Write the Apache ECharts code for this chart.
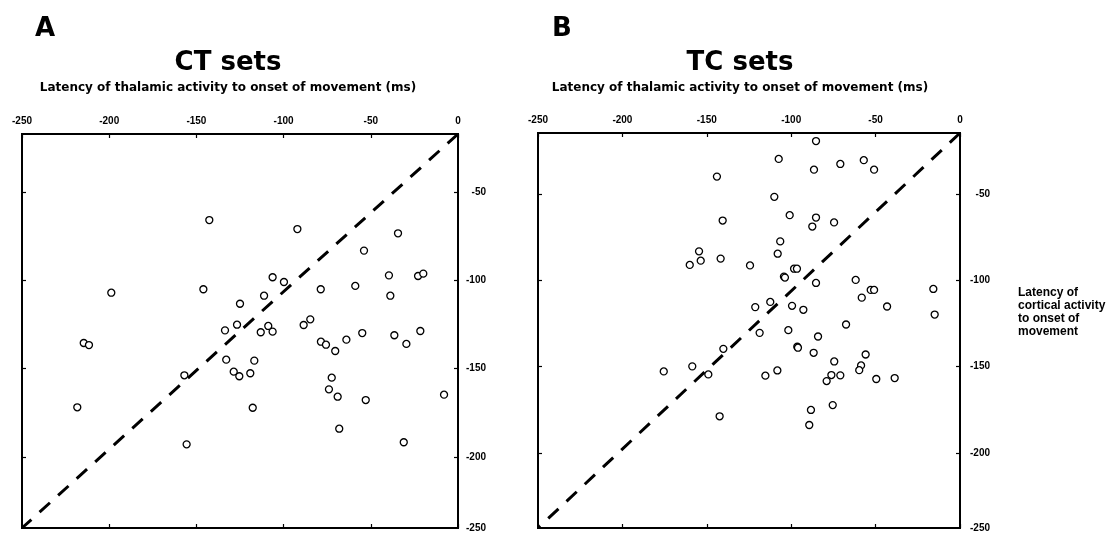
<!DOCTYPE html>
<html>
<head>
<meta charset="utf-8">
<script src="https://cdn.jsdelivr.net/npm/echarts@6/dist/echarts.min.js"></script>
<style>
  html, body { margin: 0; padding: 0; background: #fff; }
  #chart { width: 1114px; height: 533px; }
</style>
</head>
<body>
<div id="chart"></div>
<script>
// Latencies (ms) relative to onset of movement: [thalamic, cortical]
const ctSets = [
  [-142.6, -54.6], [-92.1, -60.3], [-34.4, -63.0], [-53.9, -74.0], [-106.3, -90.9],
  [-99.8, -93.9], [-39.6, -89.7], [-22.9, -90.1], [-19.9, -88.6], [-198.8, -100.7],
  [-146.0, -98.5], [-78.7, -98.5], [-58.9, -96.4], [-38.8, -102.6], [-111.2, -102.6],
  [-125.0, -107.7], [-84.7, -117.6], [-88.5, -121.2], [-133.6, -124.6], [-126.7, -121.0],
  [-108.8, -121.8], [-113.1, -125.8], [-106.3, -125.4], [-214.6, -132.6], [-211.6, -133.9],
  [-78.6, -131.8], [-75.7, -133.7], [-70.4, -137.7], [-64.0, -130.5], [-54.9, -126.3],
  [-36.5, -127.7], [-29.6, -133.2], [-21.6, -125.0], [-132.9, -143.2], [-116.8, -143.8],
  [-128.6, -150.8], [-125.4, -153.7], [-119.1, -151.8], [-156.9, -153.1], [-72.4, -154.6],
  [-74.0, -162.0], [-69.0, -166.7], [-52.9, -168.8], [-8.0, -165.4], [-218.3, -173.4],
  [-117.7, -173.7], [-68.1, -187.0], [-155.6, -196.9], [-31.1, -195.6]
];
const tcSets = [
  [-85.3, -5.1], [-107.4, -16.4], [-70.9, -19.6], [-57.0, -17.2], [-86.5, -23.2],
  [-50.9, -23.2], [-144.0, -27.6], [-110.0, -40.4], [-100.9, -52.0], [-140.6, -55.4],
  [-85.3, -53.5], [-87.5, -59.2], [-74.6, -56.6], [-106.5, -68.6], [-154.6, -74.9],
  [-108.0, -76.4], [-160.1, -83.5], [-153.6, -80.8], [-141.8, -79.5], [-124.4, -83.8],
  [-98.3, -85.9], [-96.6, -85.9], [-104.3, -90.9], [-103.7, -91.5], [-85.3, -94.9],
  [-61.8, -93.0], [-52.9, -99.3], [-50.9, -99.3], [-58.2, -104.2], [-15.8, -98.7],
  [-112.4, -106.9], [-121.3, -110.2], [-99.5, -109.4], [-92.8, -111.9], [-43.2, -109.8],
  [-15.0, -114.9], [-118.7, -126.5], [-101.7, -124.8], [-84.1, -128.8], [-67.5, -121.2],
  [-140.2, -136.6], [-96.4, -135.3], [-96.0, -135.9], [-86.7, -139.1], [-55.9, -140.2],
  [-74.5, -144.6], [-58.6, -147.1], [-59.7, -150.1], [-175.5, -150.9], [-158.6, -147.7],
  [-149.1, -152.8], [-108.2, -150.3], [-115.3, -153.6], [-76.2, -153.2], [-70.9, -153.4],
  [-79.0, -157.0], [-49.6, -155.7], [-38.7, -155.1], [-142.4, -179.3], [-88.3, -175.3],
  [-75.4, -172.2], [-89.3, -184.8]
];
// Line of equal latency
const identityLine = [[0, 0], [-250, -250]];

const axisRange = { min: -250, max: 0, interval: 50 };
const titles = ['CT sets', 'TC sets'];
const panelLetters = ['A', 'B'];
const xAxisName = 'Latency of thalamic activity to onset of movement (ms)';
const yAxisName = 'Latency of\ncortical activity\nto onset of\nmovement';

const tickFont = { fontFamily: 'Liberation Sans, Arial, sans-serif', fontWeight: 'bold', fontSize: 10, color: '#000' };
const tickStyle = { show: true, inside: true, length: 4, lineStyle: { color: '#000', width: 1.2 } };
const noLine = { show: false, onZero: false };

// panel geometry (plot boxes and the scale used for the cortical tick labels)
const panels = [
  { box: { left: 22, top: 134, width: 436, height: 394 }, ticks: { top: 192, height: 265 }, labelMargin: 28, cx: 228, letterX: 45, subCx: 228 },
  { box: { left: 538, top: 133, width: 422, height: 396 }, ticks: { top: 194, height: 259 }, labelMargin: 30, cx: 740, letterX: 562, subCx: 740 }
];

const grid = [], xAxis = [], yAxis = [], series = [], graphic = [];
const datasets = [ctSets, tcSets];

panels.forEach((p, i) => {
  const g = grid.length;
  grid.push(Object.assign({ show: true, borderColor: '#000', borderWidth: 2, backgroundColor: 'transparent' }, p.box));
  grid.push({ left: p.box.left, width: p.box.width, top: p.ticks.top, height: p.ticks.height });

  const xi = xAxis.length;
  // thalamic latency, labelled along the top
  xAxis.push(Object.assign({}, axisRange, {
    type: 'value', gridIndex: g, position: 'top',
    axisLine: noLine, splitLine: { show: false }, axisTick: tickStyle,
    axisLabel: Object.assign({ margin: 8 }, tickFont)
  }));
  xAxis.push(Object.assign({}, axisRange, {
    type: 'value', gridIndex: g, position: 'bottom',
    axisLine: noLine, splitLine: { show: false }, axisLabel: { show: false }, axisTick: tickStyle
  }));
  xAxis.push({ type: 'value', gridIndex: g + 1, min: 0, max: 1, show: false });

  const yi = yAxis.length;
  // cortical latency, data scale of the plot box
  yAxis.push(Object.assign({}, axisRange, {
    type: 'value', gridIndex: g, position: 'right',
    axisLine: noLine, splitLine: { show: false }, axisTick: { show: false },
    axisLabel: Object.assign({ margin: p.labelMargin, align: 'right', showMinLabel: true,
      formatter: v => (v === -250 ? String(v) : '') }, tickFont)
  }));
  // cortical tick marks and labels
  yAxis.push({
    type: 'value', gridIndex: g + 1, position: 'right', min: -200, max: -50, interval: 50,
    axisLine: noLine, splitLine: { show: false }, axisTick: tickStyle,
    axisLabel: Object.assign({ margin: p.labelMargin, align: 'right' }, tickFont)
  });
  yAxis.push({
    type: 'value', gridIndex: g + 1, position: 'left', min: -200, max: -50, interval: 50,
    axisLine: noLine, splitLine: { show: false }, axisLabel: { show: false }, axisTick: tickStyle
  });

  series.push({
    type: 'line', xAxisIndex: xi, yAxisIndex: yi, data: identityLine,
    symbol: 'none', silent: true, z: 1,
    lineStyle: { color: '#000', width: 3, type: [14, 11] }
  });
  series.push({
    type: 'scatter', xAxisIndex: xi, yAxisIndex: yi, data: datasets[i],
    symbol: 'circle', symbolSize: 7, z: 3,
    itemStyle: { color: '#fff', borderColor: '#000', borderWidth: 1.3, opacity: 1 }
  });

  graphic.push({ type: 'text', x: p.letterX, y: 29, style: { text: panelLetters[i], align: 'center', verticalAlign: 'middle',
    font: 'bold 26px "DejaVu Sans", sans-serif', fill: '#000' } });
  graphic.push({ type: 'text', x: p.cx, y: 63, style: { text: titles[i], align: 'center', verticalAlign: 'middle',
    font: 'bold 26px "DejaVu Sans", sans-serif', fill: '#000' } });
  graphic.push({ type: 'text', x: p.subCx, y: 88, style: { text: xAxisName, align: 'center', verticalAlign: 'middle',
    font: 'bold 12px "DejaVu Sans", sans-serif', fill: '#000' } });
});

graphic.push({ type: 'text', x: 1018, y: 286, style: { text: yAxisName, align: 'left', verticalAlign: 'top',
  font: 'bold 12px "Liberation Sans", Arial, sans-serif', lineHeight: 13, fill: '#000' } });

const chart = echarts.init(document.getElementById('chart'), null, { renderer: 'canvas' });
chart.setOption({
  animation: false,
  backgroundColor: '#fff',
  grid, xAxis, yAxis, series, graphic
});
</script>
</body>
</html>
